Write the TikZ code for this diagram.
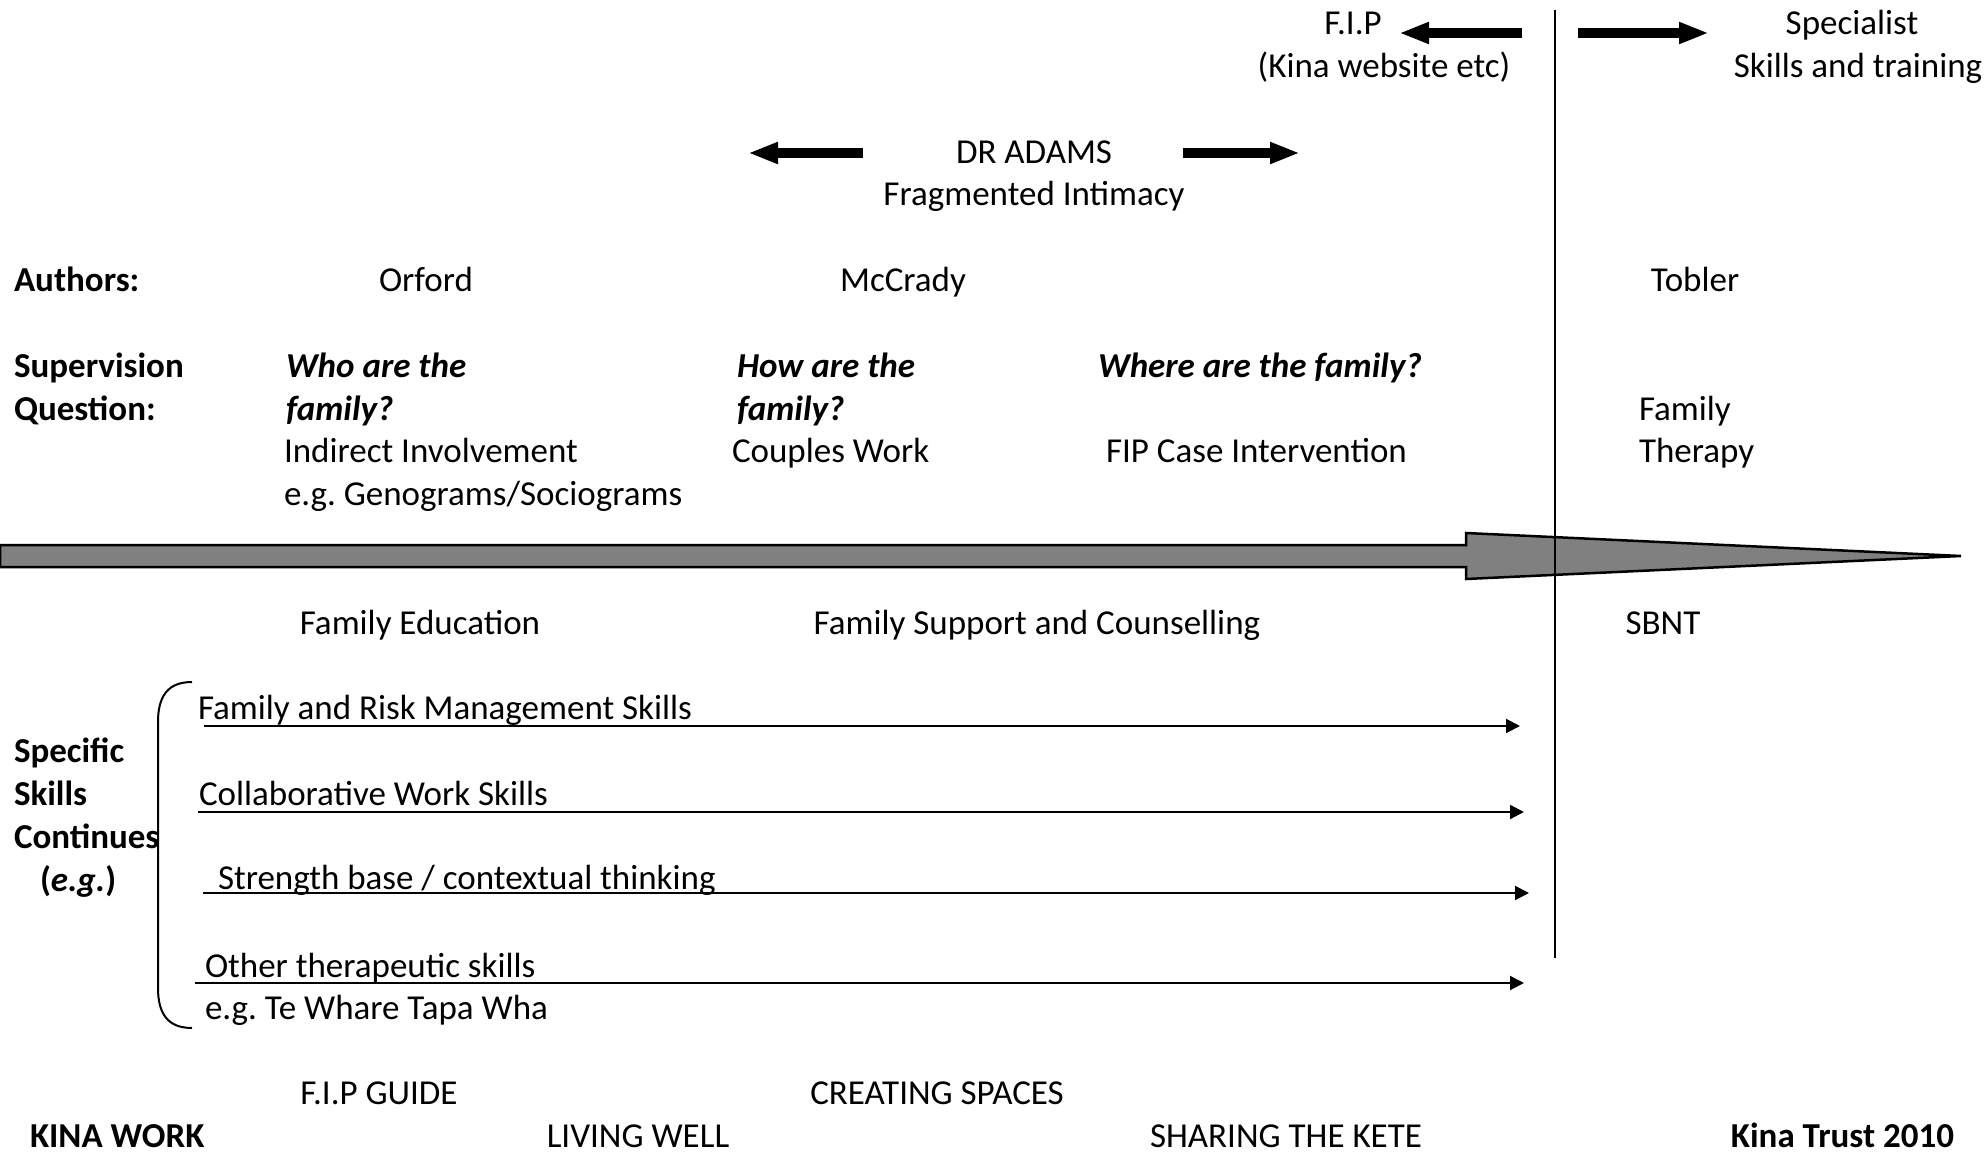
\documentclass[tikz,border=0pt]{standalone}
\usepackage{fontspec}
\setmainfont{Carlito}
\usetikzlibrary{arrows.meta}
\definecolor{arrowgray}{HTML}{808080}
\frenchspacing
\tikzset{
  txt/.style={inner sep=0pt, outer sep=0pt, font=\fontsize{17.5}{21.35}\selectfont},
  lt/.style={txt, anchor=base west},
  ct/.style={txt, anchor=base},
  rt/.style={txt, anchor=base east},
  bigarrow/.style={-{Triangle[length=15pt,width=10pt]}, line width=5.25pt},
  skillarrow/.style={-{Triangle[length=7pt,width=7pt]}, line width=1pt},
}
\begin{document}
\begin{tikzpicture}[x=0.5pt,y=-0.5pt]
\useasboundingbox (0,0) rectangle (1986,1155);

% top texts
\node[ct] (fip) at (1353,34.5) {F.I.P};
\node[ct] (kina) at (1384,77.5) {(Kina website etc)};
\node[ct] (spec) at (1852,34.5) {Specialist};
\node[ct] (skt) at (1858,77.5) {Skills and training};
\coordinate (fipA) at (1522,33);
\coordinate (fipB) at (1399,33);
\coordinate (spA) at (1578,33);
\coordinate (spB) at (1709,33);
\draw[bigarrow] (fipA) -- (fipB);
\draw[bigarrow] (spA) -- (spB);

\node[ct] (adams) at (1034,163.5) {DR ADAMS};
\node[ct] (frag) at (1034,205.5) {Fragmented Intimacy};
\coordinate (adLA) at (863,153);
\coordinate (adLB) at (748,153);
\coordinate (adRA) at (1183,153);
\coordinate (adRB) at (1300,153);
\draw[bigarrow] (adLA) -- (adLB);
\draw[bigarrow] (adRA) -- (adRB);

% authors row
\node[lt] (authors) at (14,291.5) {\bfseries Authors:};
\node[ct] (orford) at (426,291.5) {Orford};
\node[ct] (mccrady) at (903,291.5) {McCrady};
\node[ct] (tobler) at (1695,291.5) {Tobler};

% supervision
\node[lt] (sup1) at (14,377.5) {\bfseries Supervision};
\node[lt] (sup2) at (14,420.5) {\bfseries Question:};
\node[lt] (who1) at (286,377.5) {\bfseries\itshape Who are the};
\node[lt] (who2) at (286,420.5) {\bfseries\itshape family?};
\node[lt] (ind1) at (284,462.5) {Indirect Involvement};
\node[lt] (ind2) at (284,505.5) {e.g. Genograms/Sociograms};
\node[lt] (how1) at (737,377.5) {\bfseries\itshape How are the};
\node[lt] (how2) at (737,420.5) {\bfseries\itshape family?};
\node[lt] (cw) at (732,462.5) {Couples Work};
\node[lt] (where) at (1098,377.5) {\bfseries\itshape Where are the family?};
\node[lt] (fipci) at (1106,462.5) {FIP Case Intervention};
\node[lt] (ft1) at (1639,420.5) {Family};
\node[lt] (ft2) at (1639,462.5) {Therapy};

% big arrow
\draw[line width=1.25pt, fill=arrowgray]
  (0,545) -- (1466,545) -- (1466,533) -- (1961,556) -- (1466,579) -- (1466,567) -- (0,567) -- cycle;

% vertical line
\coordinate (vtop) at (1555,10);
\coordinate (vbot) at (1555,958);
\draw[line width=1.2pt] (vtop) -- (vbot);

% under arrow
\node[ct] (fe) at (420,634.5) {Family Education};
\node[ct] (fsc) at (1037,634.5) {Family Support and Counselling};
\node[ct] (sbnt) at (1663,634.5) {SBNT};

% specific skills
\node[lt] (ss1) at (14,762.5) {\bfseries Specific};
\node[lt] (ss2) at (14,805.5) {\bfseries Skills};
\node[lt] (ss3) at (14,848.5) {\bfseries Continues};
\node[lt] (ss4) at (40,891.5) {\bfseries(\textit{e.g.})};

\draw[line width=1pt] (192,682) .. controls (168,682) and (158,696) .. (158,722)
  -- (158,988) .. controls (158,1014) and (168,1028) .. (192,1028);

\node[lt] (sk1) at (198,719.5) {Family and Risk Management Skills};
\coordinate (a1s) at (204,726); \coordinate (a1e) at (1520,726);
\draw[skillarrow] (a1s) -- (a1e);
\node[lt] (sk2) at (199,805.5) {Collaborative Work Skills};
\coordinate (a2s) at (198,812); \coordinate (a2e) at (1524,812);
\draw[skillarrow] (a2s) -- (a2e);
\node[lt] (sk3) at (218,889) {Strength base / contextual thinking};
\coordinate (a3s) at (203,893); \coordinate (a3e) at (1529,893);
\draw[skillarrow] (a3s) -- (a3e);
\node[lt] (sk4) at (205,977.5) {Other therapeutic skills};
\node[lt] (sk5) at (205,1019.5) {e.g. Te Whare Tapa Wha};
\coordinate (a4s) at (195,983); \coordinate (a4e) at (1524,983);
\draw[skillarrow] (a4s) -- (a4e);

% bottom
\node[ct] (guide) at (379,1104.5) {F.I.P GUIDE};
\node[ct] (cs) at (937,1104.5) {CREATING SPACES};
\node[lt] (kw) at (30,1147.5) {\bfseries KINA WORK};
\node[ct] (lw) at (638,1147.5) {LIVING WELL};
\node[ct] (stk) at (1286,1147.5) {SHARING THE KETE};
\node[rt] (kt) at (1954,1147.5) {\bfseries Kina Trust 2010};
\end{tikzpicture}
\end{document}
